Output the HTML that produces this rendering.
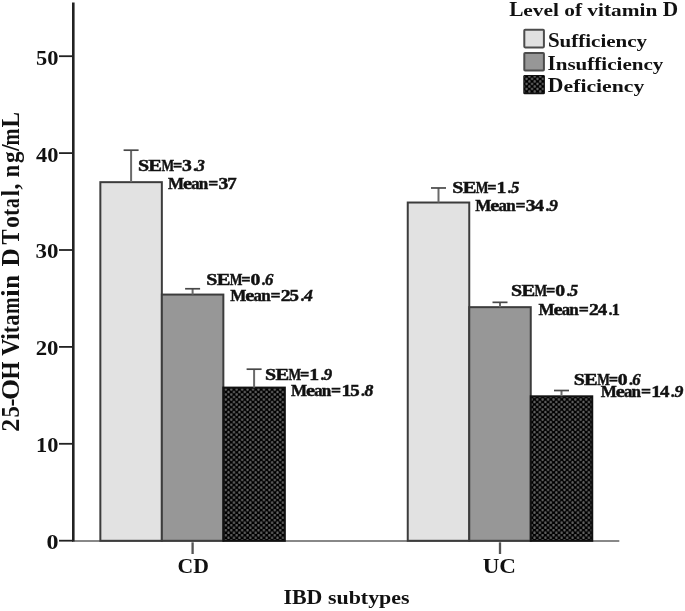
<!DOCTYPE html>
<html><head><meta charset="utf-8"><style>
html,body{margin:0;padding:0;background:#fff;}
svg{display:block;filter:blur(0.35px);}
text{font-family:"Liberation Serif", serif;font-weight:bold;}
</style></head><body>
<svg width="685" height="611" viewBox="0 0 685 611">
<defs><pattern id="dots" patternUnits="userSpaceOnUse" width="5.446" height="5.026" x="224.44" y="388.24">
<rect width="5.446" height="5.026" fill="#000"/>
<ellipse cx="1.36" cy="1.26" rx="1.15" ry="1.45" fill="#626262"/>
<ellipse cx="4.085" cy="3.77" rx="1.15" ry="1.45" fill="#626262"/>
</pattern><pattern id="dots3" patternUnits="userSpaceOnUse" width="5.446" height="5.026" x="535.84" y="398.24">
<rect width="5.446" height="5.026" fill="#000"/>
<ellipse cx="1.36" cy="1.26" rx="1.15" ry="1.45" fill="#626262"/>
<ellipse cx="4.085" cy="3.77" rx="1.15" ry="1.45" fill="#626262"/>
</pattern><pattern id="dots2" patternUnits="userSpaceOnUse" width="5.446" height="5.026" x="525.24" y="77.64">
<rect width="5.446" height="5.026" fill="#000"/>
<ellipse cx="1.36" cy="1.26" rx="1.15" ry="1.45" fill="#626262"/>
<ellipse cx="4.085" cy="3.77" rx="1.15" ry="1.45" fill="#626262"/>
</pattern></defs>
<rect width="685" height="611" fill="#fff"/>
<line x1="72" y1="540.90" x2="619.3" y2="540.90" stroke="#888" stroke-width="2"/>
<rect x="100.35" y="182.17" width="61.50" height="358.63" fill="#e2e2e2" stroke="#3c3c3c" stroke-width="2"/>
<line x1="131.10" y1="182.17" x2="131.10" y2="150.19" stroke="#6a6a6a" stroke-width="2"/>
<line x1="123.60" y1="150.19" x2="138.60" y2="150.19" stroke="#484848" stroke-width="1.7"/>
<rect x="161.85" y="294.57" width="61.50" height="246.23" fill="#979797" stroke="#3c3c3c" stroke-width="2"/>
<line x1="192.60" y1="294.57" x2="192.60" y2="288.76" stroke="#6a6a6a" stroke-width="2"/>
<line x1="185.10" y1="288.76" x2="200.10" y2="288.76" stroke="#484848" stroke-width="1.7"/>
<rect x="223.35" y="387.60" width="61.50" height="153.20" fill="url(#dots)" stroke="#111" stroke-width="2"/>
<line x1="254.10" y1="387.60" x2="254.10" y2="369.19" stroke="#6a6a6a" stroke-width="2"/>
<line x1="246.60" y1="369.19" x2="261.60" y2="369.19" stroke="#484848" stroke-width="1.7"/>
<rect x="407.75" y="202.52" width="61.50" height="338.28" fill="#e2e2e2" stroke="#3c3c3c" stroke-width="2"/>
<line x1="438.50" y1="202.52" x2="438.50" y2="187.98" stroke="#6a6a6a" stroke-width="2"/>
<line x1="431.00" y1="187.98" x2="446.00" y2="187.98" stroke="#484848" stroke-width="1.7"/>
<rect x="469.25" y="307.17" width="61.50" height="233.63" fill="#979797" stroke="#3c3c3c" stroke-width="2"/>
<line x1="500.00" y1="307.17" x2="500.00" y2="302.33" stroke="#6a6a6a" stroke-width="2"/>
<line x1="492.50" y1="302.33" x2="507.50" y2="302.33" stroke="#484848" stroke-width="1.7"/>
<rect x="530.75" y="396.32" width="61.50" height="144.48" fill="url(#dots3)" stroke="#111" stroke-width="2"/>
<line x1="561.50" y1="396.32" x2="561.50" y2="390.51" stroke="#6a6a6a" stroke-width="2"/>
<line x1="554.00" y1="390.51" x2="569.00" y2="390.51" stroke="#484848" stroke-width="1.7"/>
<line x1="73.3" y1="2.5" x2="73.3" y2="541.50" stroke="#222" stroke-width="2.6"/>
<line x1="59" y1="540.70" x2="73" y2="540.70" stroke="#222" stroke-width="1.8"/>
<line x1="59" y1="443.80" x2="73" y2="443.80" stroke="#222" stroke-width="1.8"/>
<line x1="59" y1="346.90" x2="73" y2="346.90" stroke="#222" stroke-width="1.8"/>
<line x1="59" y1="250.00" x2="73" y2="250.00" stroke="#222" stroke-width="1.8"/>
<line x1="59" y1="153.10" x2="73" y2="153.10" stroke="#222" stroke-width="1.8"/>
<line x1="59" y1="56.20" x2="73" y2="56.20" stroke="#222" stroke-width="1.8"/>
<line x1="192.60" y1="542.30" x2="192.60" y2="554" stroke="#555" stroke-width="2.3"/>
<line x1="500.00" y1="542.30" x2="500.00" y2="554" stroke="#555" stroke-width="2.3"/>
<rect x="524.3" y="29.80" width="19.6" height="17.6" rx="0.8" fill="#e1e1e1" stroke="#4c4c4c" stroke-width="2"/>
<rect x="524.3" y="53.00" width="19.6" height="17.6" rx="0.8" fill="#979797" stroke="#4c4c4c" stroke-width="2"/>
<rect x="523.9" y="75.50" width="20.4" height="18.2" rx="0.8" fill="url(#dots2)" stroke="#111" stroke-width="1.2"/>
<text transform="translate(46.54,549.10) scale(1.1846,1)" font-size="20.3" fill="#111">0</text>
<text transform="translate(36.11,452.20) scale(1.1028,1)" font-size="20.3" fill="#111">10</text>
<text transform="translate(35.69,355.30) scale(1.1244,1)" font-size="20.3" fill="#111">20</text>
<text transform="translate(35.58,258.40) scale(1.1298,1)" font-size="20.3" fill="#111">30</text>
<text transform="translate(36.06,161.50) scale(1.1051,1)" font-size="20.3" fill="#111">40</text>
<text transform="translate(36.00,64.60) scale(1.1084,1)" font-size="20.3" fill="#111">50</text>
<text transform="translate(177.51,572.80) scale(1.0590,1)" font-size="20.5" fill="#111">CD</text>
<text transform="translate(482.69,572.80) scale(1.1260,1)" font-size="20.5" fill="#111">UC</text>
<text transform="translate(283.46,603.80) scale(1.0538,1.000)" font-size="20.8" fill="#111">I</text>
<text transform="translate(291.99,603.80) scale(1.0538,1.000)" font-size="20.8" fill="#111">B</text>
<text transform="translate(306.61,603.80) scale(1.0538,1.000)" font-size="20.8" fill="#111">D</text>
<text transform="translate(327.92,603.80) scale(1.0538,0.860)" font-size="20.8" fill="#111">s</text>
<text transform="translate(336.45,603.80) scale(1.0538,0.860)" font-size="20.8" fill="#111">u</text>
<text transform="translate(348.64,603.80) scale(1.0538,0.930)" font-size="20.8" fill="#111">b</text>
<text transform="translate(360.83,603.80) scale(1.0538,0.900)" font-size="20.8" fill="#111">t</text>
<text transform="translate(368.13,603.80) scale(1.0538,0.860)" font-size="20.8" fill="#111">y</text>
<text transform="translate(379.09,603.80) scale(1.0538,0.860)" font-size="20.8" fill="#111">p</text>
<text transform="translate(391.28,603.80) scale(1.0538,0.860)" font-size="20.8" fill="#111">e</text>
<text transform="translate(401.01,603.80) scale(1.0538,0.860)" font-size="20.8" fill="#111">s</text>
<text transform="translate(509.14,16.20) scale(1.0723,1.000)" font-size="19.9" fill="#111">L</text>
<text transform="translate(523.37,16.20) scale(1.0723,0.860)" font-size="19.9" fill="#111">e</text>
<text transform="translate(532.84,16.20) scale(1.0723,0.860)" font-size="19.9" fill="#111">v</text>
<text transform="translate(543.51,16.20) scale(1.0723,0.860)" font-size="19.9" fill="#111">e</text>
<text transform="translate(552.98,16.20) scale(1.0723,0.930)" font-size="19.9" fill="#111">l</text>
<text transform="translate(564.24,16.20) scale(1.0723,0.860)" font-size="19.9" fill="#111">o</text>
<text transform="translate(574.91,16.20) scale(1.0723,0.930)" font-size="19.9" fill="#111">f</text>
<text transform="translate(587.35,16.20) scale(1.0723,0.860)" font-size="19.9" fill="#111">v</text>
<text transform="translate(598.02,16.20) scale(1.0723,0.900)" font-size="19.9" fill="#111">i</text>
<text transform="translate(603.95,16.20) scale(1.0723,0.900)" font-size="19.9" fill="#111">t</text>
<text transform="translate(611.06,16.20) scale(1.0723,0.860)" font-size="19.9" fill="#111">a</text>
<text transform="translate(621.73,16.20) scale(1.0723,0.860)" font-size="19.9" fill="#111">m</text>
<text transform="translate(639.50,16.20) scale(1.0723,0.900)" font-size="19.9" fill="#111">i</text>
<text transform="translate(645.43,16.20) scale(1.0723,0.860)" font-size="19.9" fill="#111">n</text>
<text transform="translate(662.63,16.20) scale(1.0723,1.000)" font-size="19.9" fill="#111">D</text>
<text transform="translate(547.88,46.70) scale(1.0201,1.000)" font-size="20.6" fill="#111">S</text>
<text transform="translate(559.57,46.70) scale(1.0201,0.860)" font-size="20.6" fill="#111">u</text>
<text transform="translate(571.26,46.70) scale(1.0201,0.930)" font-size="20.6" fill="#111">f</text>
<text transform="translate(578.25,46.70) scale(1.0201,0.930)" font-size="20.6" fill="#111">f</text>
<text transform="translate(585.25,46.70) scale(1.0201,0.900)" font-size="20.6" fill="#111">i</text>
<text transform="translate(591.09,46.70) scale(1.0201,0.860)" font-size="20.6" fill="#111">c</text>
<text transform="translate(600.42,46.70) scale(1.0201,0.900)" font-size="20.6" fill="#111">i</text>
<text transform="translate(606.26,46.70) scale(1.0201,0.860)" font-size="20.6" fill="#111">e</text>
<text transform="translate(615.58,46.70) scale(1.0201,0.860)" font-size="20.6" fill="#111">n</text>
<text transform="translate(627.27,46.70) scale(1.0201,0.860)" font-size="20.6" fill="#111">c</text>
<text transform="translate(636.60,46.70) scale(1.0201,0.860)" font-size="20.6" fill="#111">y</text>
<text transform="translate(547.49,69.70) scale(1.0231,1.000)" font-size="20.6" fill="#111">I</text>
<text transform="translate(555.69,69.70) scale(1.0231,0.860)" font-size="20.6" fill="#111">n</text>
<text transform="translate(567.41,69.70) scale(1.0231,0.860)" font-size="20.6" fill="#111">s</text>
<text transform="translate(575.61,69.70) scale(1.0231,0.860)" font-size="20.6" fill="#111">u</text>
<text transform="translate(587.34,69.70) scale(1.0231,0.930)" font-size="20.6" fill="#111">f</text>
<text transform="translate(594.35,69.70) scale(1.0231,0.930)" font-size="20.6" fill="#111">f</text>
<text transform="translate(601.37,69.70) scale(1.0231,0.900)" font-size="20.6" fill="#111">i</text>
<text transform="translate(607.23,69.70) scale(1.0231,0.860)" font-size="20.6" fill="#111">c</text>
<text transform="translate(616.58,69.70) scale(1.0231,0.900)" font-size="20.6" fill="#111">i</text>
<text transform="translate(622.44,69.70) scale(1.0231,0.860)" font-size="20.6" fill="#111">e</text>
<text transform="translate(631.79,69.70) scale(1.0231,0.860)" font-size="20.6" fill="#111">n</text>
<text transform="translate(643.51,69.70) scale(1.0231,0.860)" font-size="20.6" fill="#111">c</text>
<text transform="translate(652.87,69.70) scale(1.0231,0.860)" font-size="20.6" fill="#111">y</text>
<text transform="translate(547.82,92.20) scale(1.0544,1.000)" font-size="20.6" fill="#111">D</text>
<text transform="translate(563.50,92.20) scale(1.0544,0.860)" font-size="20.6" fill="#111">e</text>
<text transform="translate(573.15,92.20) scale(1.0544,0.930)" font-size="20.6" fill="#111">f</text>
<text transform="translate(580.38,92.20) scale(1.0544,0.900)" font-size="20.6" fill="#111">i</text>
<text transform="translate(586.41,92.20) scale(1.0544,0.860)" font-size="20.6" fill="#111">c</text>
<text transform="translate(596.05,92.20) scale(1.0544,0.900)" font-size="20.6" fill="#111">i</text>
<text transform="translate(602.09,92.20) scale(1.0544,0.860)" font-size="20.6" fill="#111">e</text>
<text transform="translate(611.73,92.20) scale(1.0544,0.860)" font-size="20.6" fill="#111">n</text>
<text transform="translate(623.81,92.20) scale(1.0544,0.860)" font-size="20.6" fill="#111">c</text>
<text transform="translate(633.45,92.20) scale(1.0544,0.860)" font-size="20.6" fill="#111">y</text>
<text transform="translate(137.94,170.80) scale(1.220,1)" font-size="16.4" fill="#111" stroke="#111" stroke-width="0.45">S</text>
<text transform="translate(148.35,170.80) scale(1.250,1)" font-size="16.4" fill="#111" stroke="#111" stroke-width="0.45">E</text>
<text transform="translate(161.48,170.80) scale(0.820,1)" font-size="16.4" fill="#111" stroke="#111" stroke-width="0.45">M</text>
<text transform="translate(172.94,170.80) scale(1.000,1)" font-size="16.4" fill="#111" stroke="#111" stroke-width="0.45">=</text>
<text transform="translate(182.10,170.80) scale(1.200,1)" font-size="16.4" fill="#111" stroke="#111" stroke-width="0.45">3</text>
<text transform="translate(193.80,170.80) scale(1.000,1)" font-size="16.4" fill="#111" stroke="#111" stroke-width="0.45" font-style="italic">.</text>
<text transform="translate(196.60,170.80) scale(1.020,1)" font-size="16.4" fill="#111" stroke="#111" stroke-width="0.45" font-style="italic">3</text>
<text transform="translate(168.01,189.00) scale(1.040,1)" font-size="16.4" fill="#111" stroke="#111" stroke-width="0.45">M</text>
<text transform="translate(182.98,189.00) scale(1.250,1)" font-size="16.4" fill="#111" stroke="#111" stroke-width="0.45">e</text>
<text transform="translate(191.27,189.00) scale(1.020,1)" font-size="16.4" fill="#111" stroke="#111" stroke-width="0.45">a</text>
<text transform="translate(198.84,189.00) scale(1.040,1)" font-size="16.4" fill="#111" stroke="#111" stroke-width="0.45">n</text>
<text transform="translate(208.21,189.00) scale(1.080,1)" font-size="16.4" fill="#111" stroke="#111" stroke-width="0.45">=</text>
<text transform="translate(218.53,189.00) scale(1.200,1)" font-size="16.4" fill="#111" stroke="#111" stroke-width="0.45">3</text>
<text transform="translate(227.25,189.00) scale(1.150,1)" font-size="16.4" fill="#111" stroke="#111" stroke-width="0.45">7</text>
<text transform="translate(206.24,285.00) scale(1.220,1)" font-size="16.4" fill="#111" stroke="#111" stroke-width="0.45">S</text>
<text transform="translate(216.65,285.00) scale(1.250,1)" font-size="16.4" fill="#111" stroke="#111" stroke-width="0.45">E</text>
<text transform="translate(229.78,285.00) scale(0.820,1)" font-size="16.4" fill="#111" stroke="#111" stroke-width="0.45">M</text>
<text transform="translate(241.24,285.00) scale(1.000,1)" font-size="16.4" fill="#111" stroke="#111" stroke-width="0.45">=</text>
<text transform="translate(250.40,285.00) scale(1.200,1)" font-size="16.4" fill="#111" stroke="#111" stroke-width="0.45">0</text>
<text transform="translate(262.10,285.00) scale(1.000,1)" font-size="16.4" fill="#111" stroke="#111" stroke-width="0.45" font-style="italic">.</text>
<text transform="translate(264.90,285.00) scale(1.020,1)" font-size="16.4" fill="#111" stroke="#111" stroke-width="0.45" font-style="italic">6</text>
<text transform="translate(230.31,301.30) scale(1.040,1)" font-size="16.4" fill="#111" stroke="#111" stroke-width="0.45">M</text>
<text transform="translate(245.28,301.30) scale(1.250,1)" font-size="16.4" fill="#111" stroke="#111" stroke-width="0.45">e</text>
<text transform="translate(253.57,301.30) scale(1.020,1)" font-size="16.4" fill="#111" stroke="#111" stroke-width="0.45">a</text>
<text transform="translate(261.14,301.30) scale(1.040,1)" font-size="16.4" fill="#111" stroke="#111" stroke-width="0.45">n</text>
<text transform="translate(270.51,301.30) scale(1.080,1)" font-size="16.4" fill="#111" stroke="#111" stroke-width="0.45">=</text>
<text transform="translate(280.83,301.30) scale(1.200,1)" font-size="16.4" fill="#111" stroke="#111" stroke-width="0.45">2</text>
<text transform="translate(289.55,301.30) scale(1.150,1)" font-size="16.4" fill="#111" stroke="#111" stroke-width="0.45">5</text>
<text transform="translate(300.89,301.30) scale(1.000,1)" font-size="16.4" fill="#111" stroke="#111" stroke-width="0.45" font-style="italic">.</text>
<text transform="translate(303.99,301.30) scale(1.080,1)" font-size="16.4" fill="#111" stroke="#111" stroke-width="0.45" font-style="italic">4</text>
<text transform="translate(265.04,380.30) scale(1.220,1)" font-size="16.4" fill="#111" stroke="#111" stroke-width="0.45">S</text>
<text transform="translate(275.45,380.30) scale(1.250,1)" font-size="16.4" fill="#111" stroke="#111" stroke-width="0.45">E</text>
<text transform="translate(288.58,380.30) scale(0.820,1)" font-size="16.4" fill="#111" stroke="#111" stroke-width="0.45">M</text>
<text transform="translate(300.04,380.30) scale(1.000,1)" font-size="16.4" fill="#111" stroke="#111" stroke-width="0.45">=</text>
<text transform="translate(309.20,380.30) scale(1.200,1)" font-size="16.4" fill="#111" stroke="#111" stroke-width="0.45">1</text>
<text transform="translate(320.90,380.30) scale(1.000,1)" font-size="16.4" fill="#111" stroke="#111" stroke-width="0.45" font-style="italic">.</text>
<text transform="translate(323.70,380.30) scale(1.020,1)" font-size="16.4" fill="#111" stroke="#111" stroke-width="0.45" font-style="italic">9</text>
<text transform="translate(290.91,395.90) scale(1.040,1)" font-size="16.4" fill="#111" stroke="#111" stroke-width="0.45">M</text>
<text transform="translate(305.88,395.90) scale(1.250,1)" font-size="16.4" fill="#111" stroke="#111" stroke-width="0.45">e</text>
<text transform="translate(314.17,395.90) scale(1.020,1)" font-size="16.4" fill="#111" stroke="#111" stroke-width="0.45">a</text>
<text transform="translate(321.74,395.90) scale(1.040,1)" font-size="16.4" fill="#111" stroke="#111" stroke-width="0.45">n</text>
<text transform="translate(331.11,395.90) scale(1.080,1)" font-size="16.4" fill="#111" stroke="#111" stroke-width="0.45">=</text>
<text transform="translate(341.43,395.90) scale(1.200,1)" font-size="16.4" fill="#111" stroke="#111" stroke-width="0.45">1</text>
<text transform="translate(350.15,395.90) scale(1.150,1)" font-size="16.4" fill="#111" stroke="#111" stroke-width="0.45">5</text>
<text transform="translate(361.49,395.90) scale(1.000,1)" font-size="16.4" fill="#111" stroke="#111" stroke-width="0.45" font-style="italic">.</text>
<text transform="translate(364.59,395.90) scale(1.080,1)" font-size="16.4" fill="#111" stroke="#111" stroke-width="0.45" font-style="italic">8</text>
<text transform="translate(452.24,193.40) scale(1.220,1)" font-size="16.4" fill="#111" stroke="#111" stroke-width="0.45">S</text>
<text transform="translate(462.65,193.40) scale(1.250,1)" font-size="16.4" fill="#111" stroke="#111" stroke-width="0.45">E</text>
<text transform="translate(475.78,193.40) scale(0.820,1)" font-size="16.4" fill="#111" stroke="#111" stroke-width="0.45">M</text>
<text transform="translate(487.24,193.40) scale(1.000,1)" font-size="16.4" fill="#111" stroke="#111" stroke-width="0.45">=</text>
<text transform="translate(496.40,193.40) scale(1.200,1)" font-size="16.4" fill="#111" stroke="#111" stroke-width="0.45">1</text>
<text transform="translate(508.10,193.40) scale(1.000,1)" font-size="16.4" fill="#111" stroke="#111" stroke-width="0.45" font-style="italic">.</text>
<text transform="translate(510.90,193.40) scale(1.020,1)" font-size="16.4" fill="#111" stroke="#111" stroke-width="0.45" font-style="italic">5</text>
<text transform="translate(475.31,210.80) scale(1.040,1)" font-size="16.4" fill="#111" stroke="#111" stroke-width="0.45">M</text>
<text transform="translate(490.28,210.80) scale(1.250,1)" font-size="16.4" fill="#111" stroke="#111" stroke-width="0.45">e</text>
<text transform="translate(498.57,210.80) scale(1.020,1)" font-size="16.4" fill="#111" stroke="#111" stroke-width="0.45">a</text>
<text transform="translate(506.14,210.80) scale(1.040,1)" font-size="16.4" fill="#111" stroke="#111" stroke-width="0.45">n</text>
<text transform="translate(515.51,210.80) scale(1.080,1)" font-size="16.4" fill="#111" stroke="#111" stroke-width="0.45">=</text>
<text transform="translate(525.83,210.80) scale(1.200,1)" font-size="16.4" fill="#111" stroke="#111" stroke-width="0.45">3</text>
<text transform="translate(534.55,210.80) scale(1.150,1)" font-size="16.4" fill="#111" stroke="#111" stroke-width="0.45">4</text>
<text transform="translate(545.89,210.80) scale(1.000,1)" font-size="16.4" fill="#111" stroke="#111" stroke-width="0.45" font-style="italic">.</text>
<text transform="translate(548.99,210.80) scale(1.080,1)" font-size="16.4" fill="#111" stroke="#111" stroke-width="0.45" font-style="italic">9</text>
<text transform="translate(511.04,296.00) scale(1.220,1)" font-size="16.4" fill="#111" stroke="#111" stroke-width="0.45">S</text>
<text transform="translate(521.45,296.00) scale(1.250,1)" font-size="16.4" fill="#111" stroke="#111" stroke-width="0.45">E</text>
<text transform="translate(534.58,296.00) scale(0.820,1)" font-size="16.4" fill="#111" stroke="#111" stroke-width="0.45">M</text>
<text transform="translate(546.04,296.00) scale(1.000,1)" font-size="16.4" fill="#111" stroke="#111" stroke-width="0.45">=</text>
<text transform="translate(555.20,296.00) scale(1.200,1)" font-size="16.4" fill="#111" stroke="#111" stroke-width="0.45">0</text>
<text transform="translate(566.90,296.00) scale(1.000,1)" font-size="16.4" fill="#111" stroke="#111" stroke-width="0.45" font-style="italic">.</text>
<text transform="translate(569.70,296.00) scale(1.020,1)" font-size="16.4" fill="#111" stroke="#111" stroke-width="0.45" font-style="italic">5</text>
<text transform="translate(538.51,314.70) scale(1.040,1)" font-size="16.4" fill="#111" stroke="#111" stroke-width="0.45">M</text>
<text transform="translate(553.48,314.70) scale(1.250,1)" font-size="16.4" fill="#111" stroke="#111" stroke-width="0.45">e</text>
<text transform="translate(561.77,314.70) scale(1.020,1)" font-size="16.4" fill="#111" stroke="#111" stroke-width="0.45">a</text>
<text transform="translate(569.34,314.70) scale(1.040,1)" font-size="16.4" fill="#111" stroke="#111" stroke-width="0.45">n</text>
<text transform="translate(578.71,314.70) scale(1.080,1)" font-size="16.4" fill="#111" stroke="#111" stroke-width="0.45">=</text>
<text transform="translate(589.03,314.70) scale(1.200,1)" font-size="16.4" fill="#111" stroke="#111" stroke-width="0.45">2</text>
<text transform="translate(597.75,314.70) scale(1.150,1)" font-size="16.4" fill="#111" stroke="#111" stroke-width="0.45">4</text>
<text transform="translate(608.40,314.70) scale(1.000,1)" font-size="16.4" fill="#111" stroke="#111" stroke-width="0.45">.</text>
<text transform="translate(611.70,314.70) scale(0.980,1)" font-size="16.4" fill="#111" stroke="#111" stroke-width="0.45">1</text>
<text transform="translate(573.64,385.10) scale(1.220,1)" font-size="16.4" fill="#111" stroke="#111" stroke-width="0.45">S</text>
<text transform="translate(584.05,385.10) scale(1.250,1)" font-size="16.4" fill="#111" stroke="#111" stroke-width="0.45">E</text>
<text transform="translate(597.18,385.10) scale(0.820,1)" font-size="16.4" fill="#111" stroke="#111" stroke-width="0.45">M</text>
<text transform="translate(608.64,385.10) scale(1.000,1)" font-size="16.4" fill="#111" stroke="#111" stroke-width="0.45">=</text>
<text transform="translate(617.80,385.10) scale(1.200,1)" font-size="16.4" fill="#111" stroke="#111" stroke-width="0.45">0</text>
<text transform="translate(629.50,385.10) scale(1.000,1)" font-size="16.4" fill="#111" stroke="#111" stroke-width="0.45" font-style="italic">.</text>
<text transform="translate(632.30,385.10) scale(1.020,1)" font-size="16.4" fill="#111" stroke="#111" stroke-width="0.45" font-style="italic">6</text>
<text transform="translate(600.71,396.70) scale(1.040,1)" font-size="16.4" fill="#111" stroke="#111" stroke-width="0.45">M</text>
<text transform="translate(615.68,396.70) scale(1.250,1)" font-size="16.4" fill="#111" stroke="#111" stroke-width="0.45">e</text>
<text transform="translate(623.97,396.70) scale(1.020,1)" font-size="16.4" fill="#111" stroke="#111" stroke-width="0.45">a</text>
<text transform="translate(631.54,396.70) scale(1.040,1)" font-size="16.4" fill="#111" stroke="#111" stroke-width="0.45">n</text>
<text transform="translate(640.91,396.70) scale(1.080,1)" font-size="16.4" fill="#111" stroke="#111" stroke-width="0.45">=</text>
<text transform="translate(651.23,396.70) scale(1.200,1)" font-size="16.4" fill="#111" stroke="#111" stroke-width="0.45">1</text>
<text transform="translate(659.95,396.70) scale(1.150,1)" font-size="16.4" fill="#111" stroke="#111" stroke-width="0.45">4</text>
<text transform="translate(671.29,396.70) scale(1.000,1)" font-size="16.4" fill="#111" stroke="#111" stroke-width="0.45" font-style="italic">.</text>
<text transform="translate(674.39,396.70) scale(1.080,1)" font-size="16.4" fill="#111" stroke="#111" stroke-width="0.45" font-style="italic">9</text>
<text transform="translate(19.2,431.79) scale(1.07,1) rotate(-90) scale(1.084,1)" font-size="24.0" fill="#111">2</text>
<text transform="translate(19.2,417.50) scale(1.07,1) rotate(-90) scale(0.935,1)" font-size="24.0" fill="#111">5</text>
<text transform="translate(19.2,406.60) scale(1.07,1) rotate(-90) scale(1.000,1)" font-size="24.0" fill="#111">-</text>
<text transform="translate(19.2,399.92) scale(1.07,1) rotate(-90) scale(1.127,1)" font-size="24.0" fill="#111">O</text>
<text transform="translate(19.2,379.50) scale(1.07,1) rotate(-90) scale(0.963,1)" font-size="24.0" fill="#111">H</text>
<text transform="translate(19.2,355.87) scale(1.07,1) rotate(-90) scale(0.989,1)" font-size="24.0" fill="#111">V</text>
<text transform="translate(19.2,339.95) scale(1.07,1) rotate(-90) scale(1.036,1)" font-size="24.0" fill="#111">i</text>
<text transform="translate(19.2,333.15) scale(1.07,1) rotate(-90) scale(0.893,1)" font-size="24.0" fill="#111">t</text>
<text transform="translate(19.2,325.63) scale(1.07,1) rotate(-90) scale(0.948,1)" font-size="24.0" fill="#111">a</text>
<text transform="translate(19.2,313.93) scale(1.07,1) rotate(-90) scale(0.829,1)" font-size="24.0" fill="#111">m</text>
<text transform="translate(19.2,297.11) scale(1.07,1) rotate(-90) scale(1.157,1)" font-size="24.0" fill="#111">i</text>
<text transform="translate(19.2,288.66) scale(1.07,1) rotate(-90) scale(1.029,1)" font-size="24.0" fill="#111">n</text>
<text transform="translate(19.2,266.44) scale(1.07,1) rotate(-90) scale(1.048,1)" font-size="24.0" fill="#111">D</text>
<text transform="translate(19.2,244.45) scale(1.07,1) rotate(-90) scale(0.943,1)" font-size="24.0" fill="#111">T</text>
<text transform="translate(19.2,228.11) scale(1.07,1) rotate(-90) scale(0.993,1)" font-size="24.0" fill="#111">o</text>
<text transform="translate(19.2,216.05) scale(1.07,1) rotate(-90) scale(0.907,1)" font-size="24.0" fill="#111">t</text>
<text transform="translate(19.2,208.02) scale(1.07,1) rotate(-90) scale(0.800,1)" font-size="24.0" fill="#111">a</text>
<text transform="translate(19.2,196.34) scale(1.07,1) rotate(-90) scale(0.933,1)" font-size="24.0" fill="#111">l</text>
<text transform="translate(19.2,189.55) scale(1.07,1) rotate(-90) scale(1.000,1)" font-size="24.0" fill="#111">,</text>
<text transform="translate(19.2,177.20) scale(1.07,1) rotate(-90) scale(0.932,1)" font-size="24.0" fill="#111">n</text>
<text transform="translate(19.2,162.91) scale(1.07,1) rotate(-90) scale(0.961,1)" font-size="24.0" fill="#111">g</text>
<text transform="translate(19.2,150.94) scale(1.07,1) rotate(-90) scale(1.000,1)" font-size="24.0" fill="#111">/</text>
<text transform="translate(19.2,145.55) scale(1.07,1) rotate(-90) scale(0.850,1)" font-size="24.0" fill="#111">m</text>
<text transform="translate(19.2,127.40) scale(1.07,1) rotate(-90) scale(0.966,1)" font-size="24.0" fill="#111">L</text>
</svg>
</body></html>
